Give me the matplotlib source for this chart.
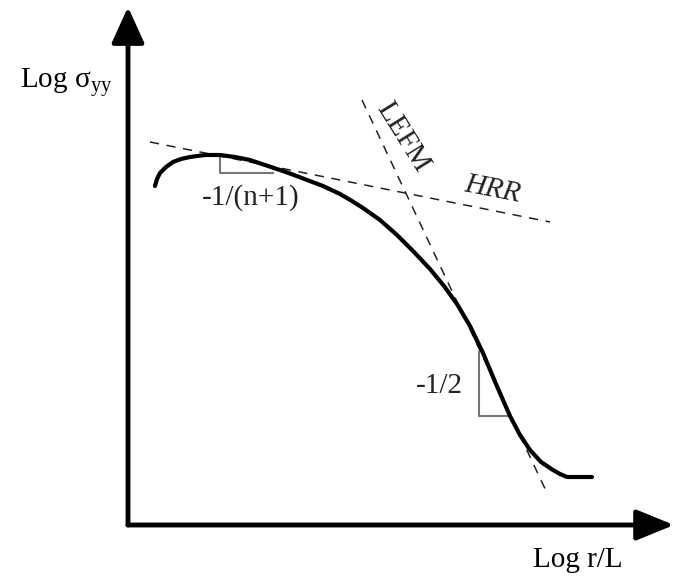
import matplotlib
matplotlib.use("Agg")
import matplotlib.pyplot as plt

# schematic drawn in picture units (x to the right, y downward)
curve_x = [155, 157, 160, 166, 173, 181, 190, 205, 220, 235, 250, 265, 280, 294,
           307, 323, 340, 352, 363, 380, 397, 414, 430, 444, 457, 470, 483, 496,
           510, 520, 530, 541, 553, 560, 567, 575, 592]
curve_y = [186, 179, 173, 167, 162, 159, 157, 155, 155, 157, 160, 165, 170, 175,
           180, 186, 194, 201, 208, 220, 235, 252, 269, 286, 304, 326, 353, 384,
           416, 435, 450, 462, 470, 474, 477, 477, 477]

hrr_x = [150, 550]
hrr_y = [142, 222]
lefm_x = [362, 548]
lefm_y = [100, 495]

# slope triangles: corner, end of vertical leg, end of horizontal leg
tri1_x = [220, 220, 273]
tri1_y = [155, 173, 173]
tri2_x = [479, 479, 508]
tri2_y = [352, 416, 416]

origin = (128, 525)
y_tip = (128, 7)
x_tip = (674, 525)

plt.rcParams['font.family'] = ['Liberation Serif', 'DejaVu Serif']
plt.rcParams['mathtext.fontset'] = 'custom'
plt.rcParams['mathtext.rm'] = 'Liberation Serif'

fig = plt.figure(figsize=(6.75, 5.77), dpi=100)
ax = fig.add_axes([0, 0, 1, 1])
ax.set_xlim(0, 675)
ax.set_ylim(577, 0)
ax.axis('off')

# axes with arrows
ax.annotate('', xy=y_tip, xytext=origin,
            arrowprops=dict(arrowstyle='-|>,head_length=1.1,head_width=0.5',
                            lw=3.5, color='black', mutation_scale=20,
                            shrinkA=0, shrinkB=0))
ax.annotate('', xy=x_tip, xytext=origin,
            arrowprops=dict(arrowstyle='-|>,head_length=1.15,head_width=0.47',
                            lw=3.5, color='black', mutation_scale=20,
                            shrinkA=0, shrinkB=0))

ax.plot(hrr_x, hrr_y, color='#222222', lw=1.1, dashes=(6, 5))
ax.plot(lefm_x, lefm_y, color='#222222', lw=1.1, dashes=(6, 5))

ax.plot(tri1_x, tri1_y, color='#777777', lw=1.5)
ax.plot(tri2_x, tri2_y, color='#777777', lw=1.5)

ax.plot(curve_x, curve_y, color='black', lw=3, solid_capstyle='round',
        solid_joinstyle='round')

fs = 21
ax.text(20, 88, r'Log σ$_\mathrm{yy}$', fontsize=fs, ha='left', va='baseline')
ax.text(533, 567, 'Log r/L', fontsize=fs, ha='left', va='baseline')
ax.text(202, 205, '-1/(n+1)', fontsize=fs, ha='left', va='baseline', color='#222222')
ax.text(416, 393, '-1/2', fontsize=fs, ha='left', va='baseline', color='#222222')
ax.text(492, 190, 'HRR', fontsize=fs, style='italic', rotation=-11,
        ha='center', va='center', color='#222222')
ax.text(403, 137, 'LEFM', fontsize=fs, rotation=-58,
        ha='center', va='center', color='#222222')

fig.savefig('out.png', dpi=100)
